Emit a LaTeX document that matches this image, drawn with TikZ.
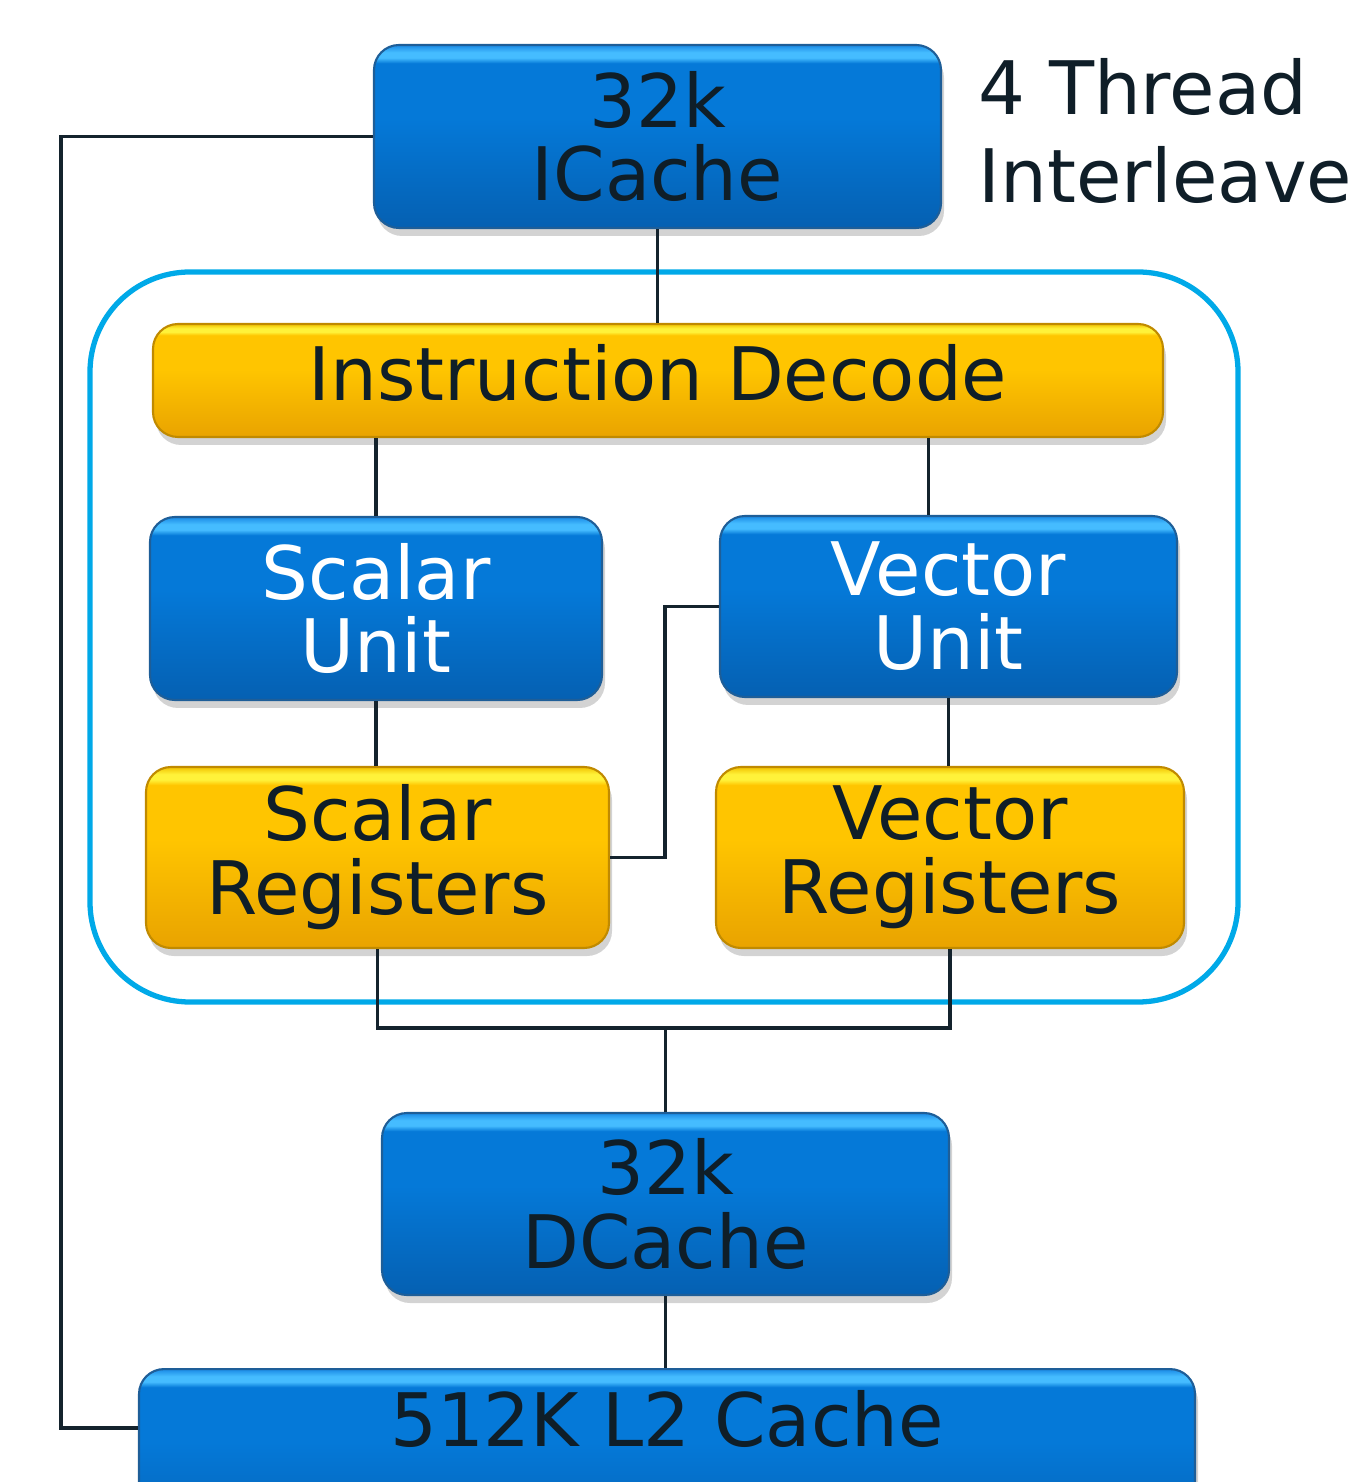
\documentclass[tikz,border=0pt]{standalone}
\usepackage{fontspec}
\setmainfont{DejaVu Sans}
\usetikzlibrary{shadows}
\definecolor{bluebot}{HTML}{0560B2}
\definecolor{bluemid}{HTML}{0579D8}
\definecolor{bluehi}{HTML}{45BCFF}
\definecolor{bluetop}{HTML}{1A8AE5}
\definecolor{blueedge}{HTML}{1E5E98}
\definecolor{yelbot}{HTML}{E9A300}
\definecolor{yelmid}{HTML}{FFC500}
\definecolor{yelhi}{HTML}{FFF23A}
\definecolor{yeltop}{HTML}{F2C200}
\definecolor{yeledge}{HTML}{C08A00}
\definecolor{wire}{HTML}{14232D}
\definecolor{ink}{HTML}{0F1E28}
\definecolor{framecol}{HTML}{00A9E8}
\pgfdeclareverticalshading{bluebar}{100bp}{color(0bp)=(bluebot); color(25bp)=(bluebot); color(55bp)=(bluemid); color(70bp)=(bluemid); color(71.5bp)=(bluehi); color(73bp)=(bluehi); color(75bp)=(bluetop); color(100bp)=(bluetop)}
\pgfdeclareverticalshading{yelbar}{100bp}{color(0bp)=(yelbot); color(25bp)=(yelbot); color(55bp)=(yelmid); color(70bp)=(yelmid); color(71.5bp)=(yelhi); color(73bp)=(yelhi); color(75bp)=(yeltop); color(100bp)=(yeltop)}
\begin{document}
\begin{tikzpicture}[
    font=\fontsize{21}{21}\selectfont,
    box/.style={rounded corners=0.25cm, align=center, inner sep=0pt,
        drop shadow={shadow xshift=0.03cm, shadow yshift=-0.08cm, opacity=0.35}},
    bluebox/.style={box, shading=bluebar, draw=blueedge, line width=0.6pt},
    yelbox/.style={box, shading=yelbar, draw=yeledge, line width=0.6pt, text=ink},
    wires/.style={draw=wire, line width=1.1pt},
    frame/.style={draw=framecol, line width=1.5pt, rounded corners=1cm}]
    \clip (0,0) rectangle (13.66,-14.82);
    % outer frame
    \draw[frame] (0.90,-2.72) rectangle (12.38,-10.02);
    % caches
    \node[bluebox, text=ink, minimum width=5.67cm, minimum height=1.83cm] (icache) at (6.575,-1.365) {32k\\ICache};
    \node[bluebox, text=ink, minimum width=5.67cm, minimum height=1.82cm] (dcache) at (6.655,-12.04) {32k\\DCache};
    \node[bluebox, text=ink, minimum width=10.56cm, minimum height=1.82cm, anchor=north,
        text height=0.55cm, text depth=0.83cm] (l2) at (6.67,-13.68) {512K L2 Cache};
    \node[anchor=north west, inner sep=0pt, align=left, text=ink,
        font=\fontsize{21}{25}\selectfont] (tlabel) at (9.78,-0.58) {4 Thread\\Interleave};
    % core
    \node[yelbox, minimum width=10.10cm, minimum height=1.13cm, text depth=0.16cm] (decode) at (6.58,-3.805) {Instruction Decode};
    \node[bluebox, text=white, minimum width=4.52cm, minimum height=1.83cm] (sunit) at (3.76,-6.085) {Scalar\\Unit};
    \node[bluebox, text=white, minimum width=4.57cm, minimum height=1.81cm] (vunit) at (9.485,-6.065) {Vector\\Unit};
    \node[yelbox, minimum width=4.63cm, minimum height=1.81cm] (sreg) at (3.775,-8.575) {Scalar\\Registers};
    \node[yelbox, minimum width=4.68cm, minimum height=1.81cm] (vreg) at (9.50,-8.575) {Vector\\Registers};
    % wires
    \draw[wires] (icache.south) -- (icache.south |- decode.north);
    \draw[wires] (sunit.north |- decode.south) -- (sunit.north);
    \draw[wires] ([xshift=-2mm]vunit.north |- decode.south) -- ([xshift=-2mm]vunit.north);
    \draw[wires] (sunit.south) -- (sunit.south |- sreg.north);
    \draw[wires] (vunit.south) -- (vunit.south |- vreg.north);
    \draw[wires] (sreg.east) -- ++(0.55,0) |- (vunit.west);
    \path (sreg.south) ++(0,-0.79) coordinate (bus);
    \draw[wires] (sreg.south) -- (bus) -| (vreg.south);
    \draw[wires] (dcache.north |- bus) -- (dcache.north);
    \draw[wires] (dcache.south) -- (dcache.south |- l2.north);
    \draw[wires] (icache.west) -- ++(-3.12,0) |- ([yshift=-0.6cm]l2.north west);
\end{tikzpicture}
\end{document}
